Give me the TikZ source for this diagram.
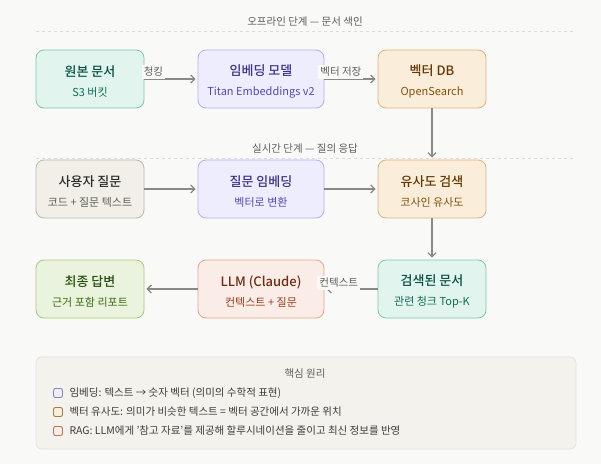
\documentclass[tikz,border=0pt]{standalone}
\usepackage{fontspec}
\setmainfont{Noto Sans CJK KR}[BoldFont={Noto Sans CJK KR Medium}]
\usetikzlibrary{arrows.meta}

\definecolor{bgcol}{HTML}{F9F9F7}
\definecolor{linecol}{HTML}{8A8983}
\definecolor{labelcol}{HTML}{5F5E5A}
\definecolor{dashcol}{HTML}{DEDCD4}
\definecolor{tealfill}{HTML}{E1F5EE}
\definecolor{tealdraw}{HTML}{7CC8AA}
\definecolor{tealtitle}{HTML}{085041}
\definecolor{tealsub}{HTML}{0F6E56}
\definecolor{purpfill}{HTML}{EEEDFE}
\definecolor{purpdraw}{HTML}{B4AEEE}
\definecolor{purptitle}{HTML}{3C3489}
\definecolor{purpsub}{HTML}{534AB7}
\definecolor{ambfill}{HTML}{FAEEDA}
\definecolor{ambdraw}{HTML}{DDB27C}
\definecolor{ambtitle}{HTML}{633806}
\definecolor{ambsub}{HTML}{854F0B}
\definecolor{grayfill}{HTML}{F1EFE8}
\definecolor{graydraw}{HTML}{B9B7AE}
\definecolor{graytitle}{HTML}{2C2C2A}
\definecolor{graysub}{HTML}{5F5E5A}
\definecolor{grnfill}{HTML}{EAF3DE}
\definecolor{grndraw}{HTML}{A6CC78}
\definecolor{grntitle}{HTML}{27500A}
\definecolor{grnsub}{HTML}{3B6D11}
\definecolor{corfill}{HTML}{FAECE7}
\definecolor{cordraw}{HTML}{E8A58C}
\definecolor{cortitle}{HTML}{712B13}
\definecolor{corsub}{HTML}{993C1D}
\definecolor{notefill}{HTML}{F3F2EC}
\definecolor{notedraw}{HTML}{E3E1DA}
\definecolor{notetext}{HTML}{3D3D3A}

\newcommand{\cardtext}[4]{{\fontsize{13}{16}\selectfont\bfseries\color{#1}\rule{0pt}{15pt}#2}\\[7pt]{\color{#3}#4}}

\tikzset{
  card/.style={rounded corners=8, line width=0.8, minimum width=108, minimum height=58,
    align=center, inner sep=0, font=\fontsize{11}{13}\selectfont},
  wide/.style={minimum width=126},
  teal/.style={card, fill=tealfill, draw=tealdraw},
  purp/.style={card, fill=purpfill, draw=purpdraw},
  amb/.style={card, fill=ambfill, draw=ambdraw},
  gray/.style={card, fill=grayfill, draw=graydraw},
  grn/.style={card, fill=grnfill, draw=grndraw},
  cor/.style={card, fill=corfill, draw=cordraw},
  flow/.style={-{Straight Barb[length=4pt, width=8pt]}, line width=1.3, draw=linecol, shorten >=2},
  edgelbl/.style={fill=bgcol, text=labelcol, inner sep=2, font=\fontsize{10.5}{12}\selectfont},
  phase/.style={text=labelcol, font=\fontsize{10.5}{12}\selectfont},
  sep/.style={draw=dashcol, line width=0.6, dash pattern=on 3 off 3},
  swatch/.style={rounded corners=2, line width=0.9, minimum size=9, inner sep=0},
  notetxt/.style={text=notetext, anchor=west, font=\fontsize{10.5}{12}\selectfont}
}

\begin{document}
\begin{tikzpicture}[x=1pt, y=-1pt]
\fill[bgcol] (0,0) rectangle (601,464);
\useasboundingbox (0,0) rectangle (601,464);

% Offline phase
\node[phase] (offline) at (305,22) {오프라인 단계 — 문서 색인};
\draw[sep] (36,31) -- (575,31);

\node[teal] (source) at (90,79) {\cardtext{tealtitle}{원본 문서}{tealsub}{S3 버킷}};
\node[purp, wide] (embed) at (261,79) {\cardtext{purptitle}{임베딩 모델}{purpsub}{Titan Embeddings v2}};
\node[amb] (vectordb) at (432,79) {\cardtext{ambtitle}{벡터 DB}{ambsub}{OpenSearch}};

\draw[flow] (source) -- node[edgelbl, pos=0.17, yshift=7] {청킹} (embed);
\draw[flow] (embed) -- node[edgelbl, pos=0.31, yshift=7] {벡터 저장} (vectordb);

% Online phase
\node[phase] (online) at (305,149) {실시간 단계 — 질의 응답};
\draw[sep] (36,158) -- (575,158);

\node[gray] (question) at (90,189) {\cardtext{graytitle}{사용자 질문}{graysub}{코드 + 질문 텍스트}};
\node[purp, wide] (qembed) at (261,189) {\cardtext{purptitle}{질문 임베딩}{purpsub}{벡터로 변환}};
\node[amb] (search) at (432,189) {\cardtext{ambtitle}{유사도 검색}{ambsub}{코사인 유사도}};

\node[grn] (answer) at (90,289) {\cardtext{grntitle}{최종 답변}{grnsub}{근거 포함 리포트}};
\node[cor, wide] (llm) at (261,289) {\cardtext{cortitle}{LLM (Claude)}{corsub}{컨텍스트 + 질문}};
\node[teal] (docs) at (432,289) {\cardtext{tealtitle}{검색된 문서}{tealsub}{관련 청크 Top-K}};

\draw[flow] (vectordb) -- (search);
\draw[flow] (question) -- (qembed);
\draw[flow] (qembed) -- (search);
\draw[flow] (search) -- (docs);
\draw[flow] (docs) -- node[edgelbl, pos=0.73, yshift=6] {컨텍스트} (llm);
\draw[flow] (llm) -- (answer);

% Key ideas
\draw[fill=notefill, draw=notedraw, line width=0.6, rounded corners=6] (36,357) rectangle (576,449);
\node[phase, text=labelcol] (keytitle) at (305,374) {핵심 원리};
\node[swatch, fill=purpfill, draw=purptitle!60] (sw1) at (58,393) {};
\node[swatch, fill=ambfill, draw=ambsub!75] (sw2) at (58,412) {};
\node[swatch, fill=corfill, draw=corsub!70] (sw3) at (58,431) {};
\node[notetxt] (key1) at (66,393) {임베딩: 텍스트 → 숫자 벡터 (의미의 수학적 표현)};
\node[notetxt] (key2) at (66,412) {벡터 유사도: 의미가 비슷한 텍스트 = 벡터 공간에서 가까운 위치};
\node[notetxt] (key3) at (66,431) {RAG: LLM에게 '참고 자료'를 제공해 할루시네이션을 줄이고 최신 정보를 반영};
\end{tikzpicture}
\end{document}
